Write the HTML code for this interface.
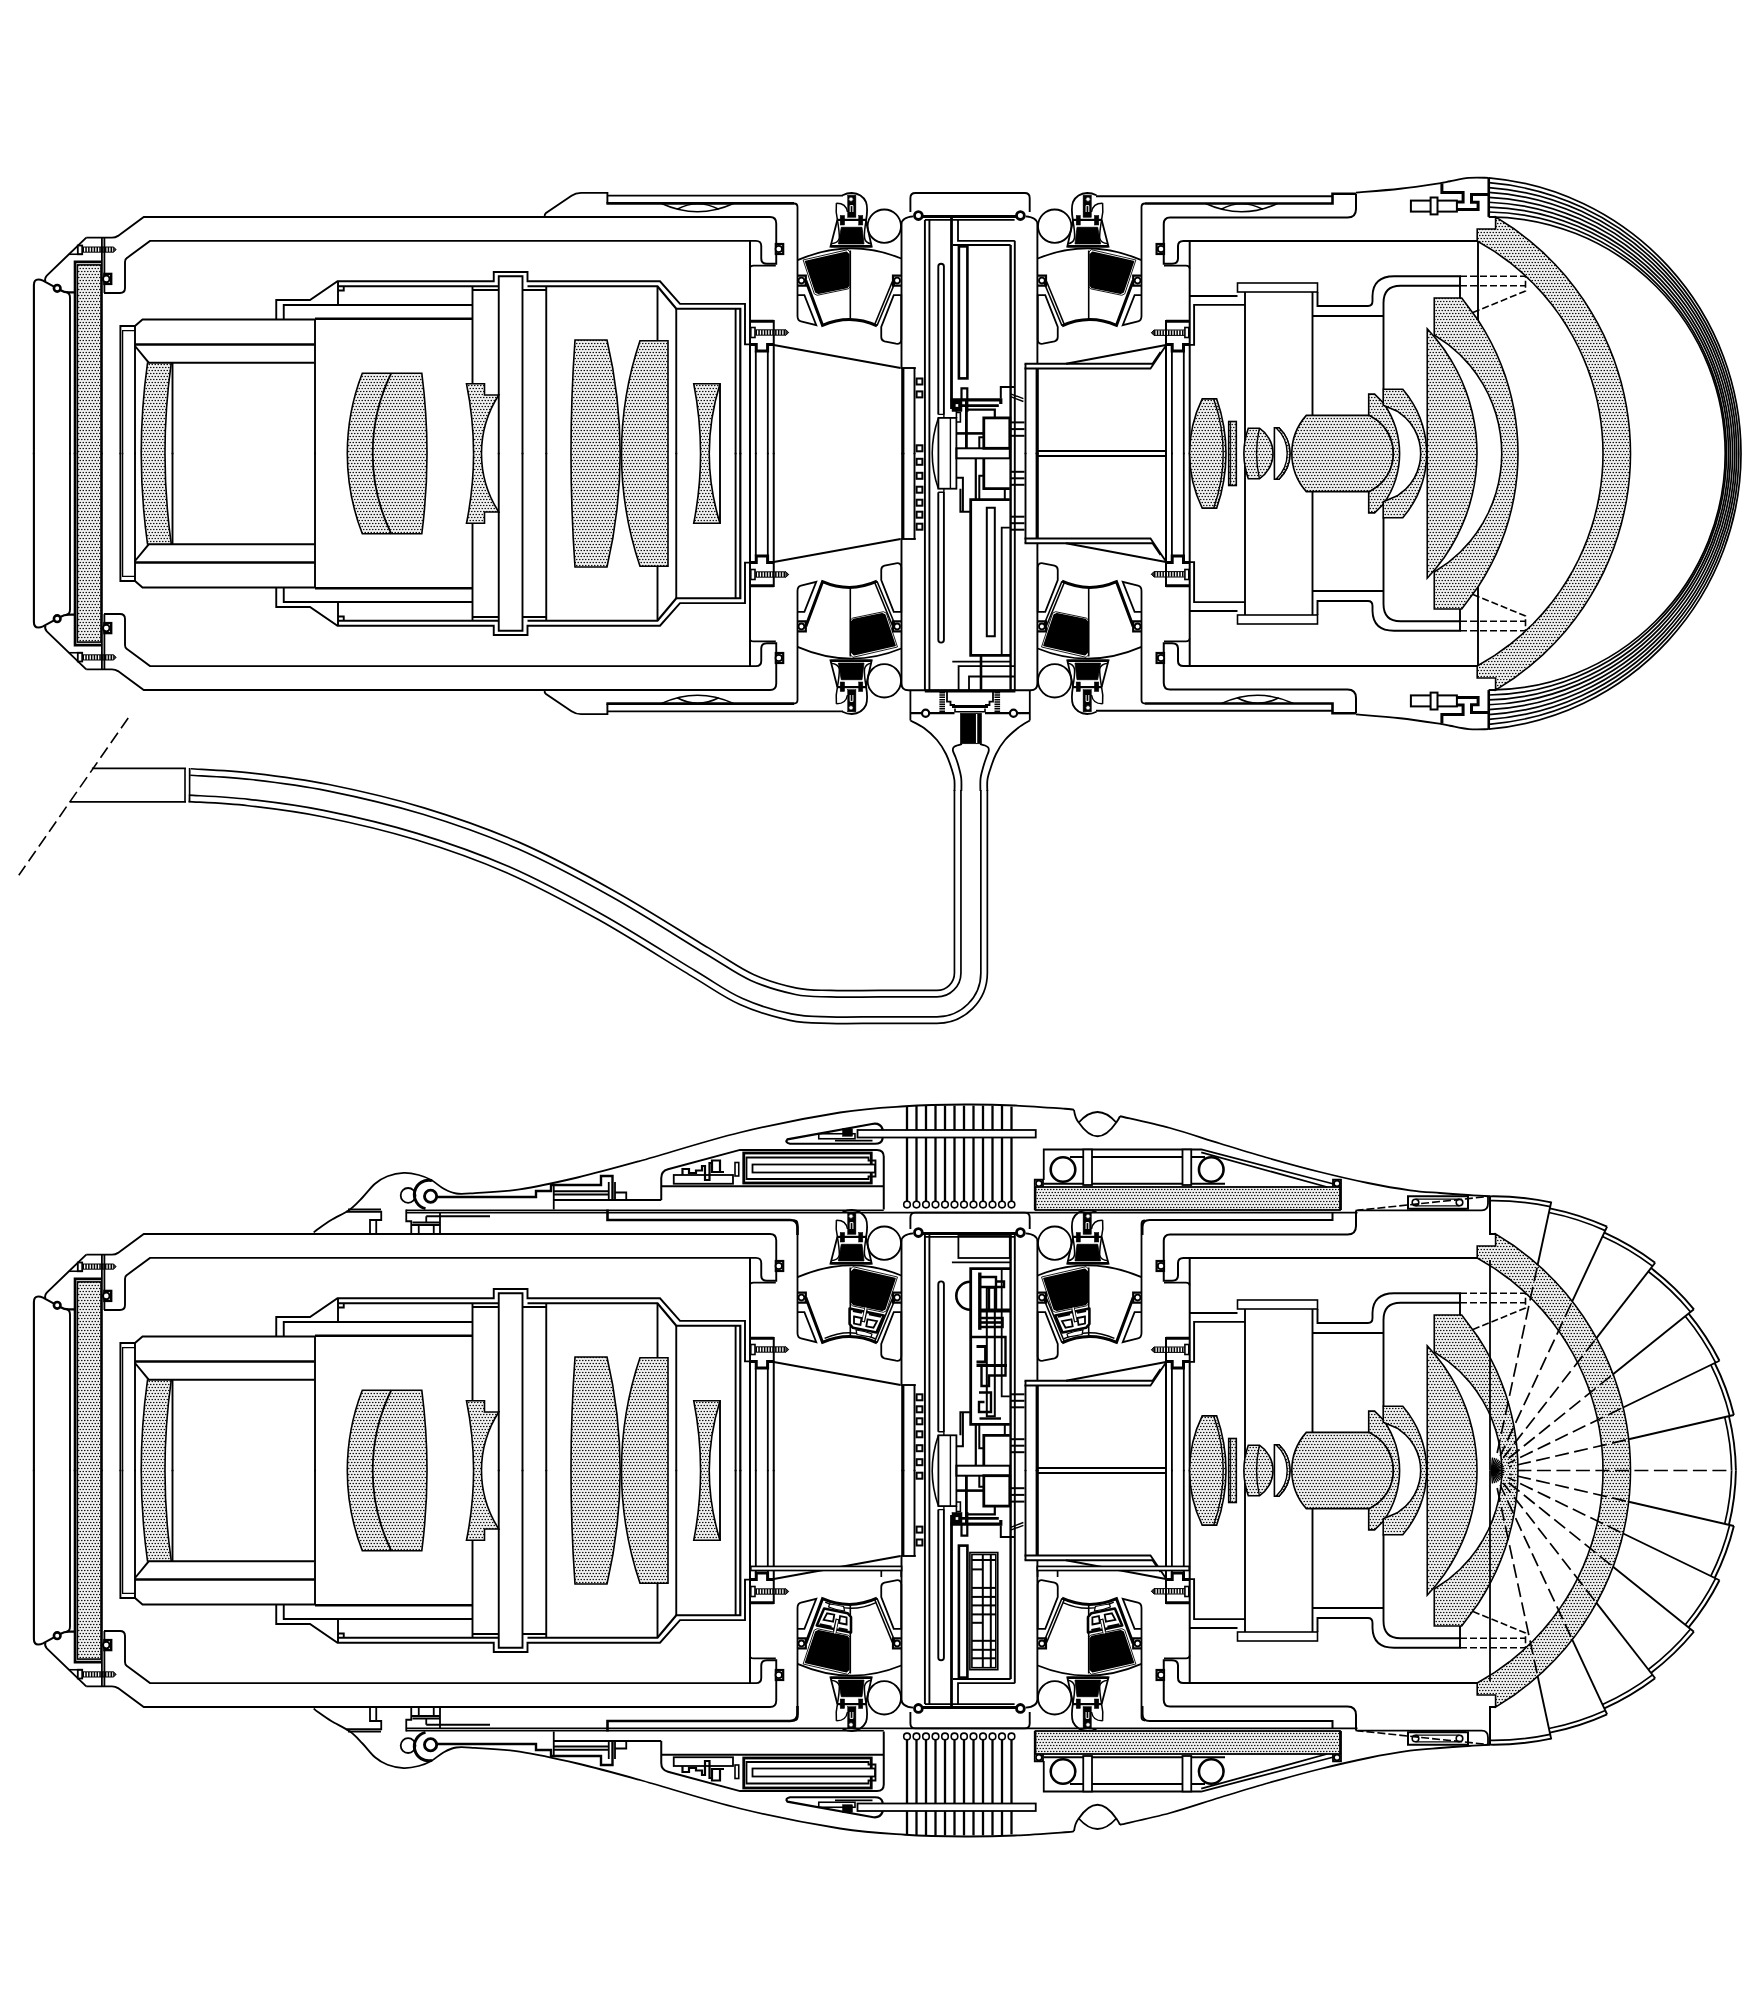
<!DOCTYPE html>
<html><head><meta charset="utf-8"><title>Section drawing</title>
<style>html,body{margin:0;padding:0;background:#fff;font-family:"Liberation Sans",sans-serif}svg{display:block}</style>
</head><body>
<svg width="1757" height="2004" viewBox="0 0 1757 2004" stroke-linejoin="miter" stroke-linecap="butt">
<defs>
<pattern id="dots" width="3" height="6" patternUnits="userSpaceOnUse">
<rect width="3" height="6" fill="#f1f1f1"/>
<circle cx="0.75" cy="1.5" r="0.8" fill="#000"/><circle cx="2.25" cy="4.5" r="0.8" fill="#000"/>
</pattern>
<g id="symU"><path d="M86.25,237.6 L46.8,275.6 Q44.2,278.5 45.5,281.3" fill="none" stroke="#000" stroke-width="1.9" />
<path d="M33.9,454.2 V285 Q33.9,279.5 38.3,279.5 Q40.5,279.5 43,280.6 L54,286.6" fill="none" stroke="#000" stroke-width="2.1" />
<path d="M60.2,290 Q64,292.4 68.75,292.4 H75" fill="none" stroke="#000" stroke-width="2.1" />
<path d="M66.5,292.2 Q70,293 70,297.5 V454.2" fill="none" stroke="#000" stroke-width="1.9" />
<circle cx="57.2" cy="288.3" r="3.3" fill="#fff" stroke="#000" stroke-width="2.6"/>
<path d="M75,454.2 V261.9 H101.9" fill="none" stroke="#000" stroke-width="2.6" />
<path d="M101.9,237.6 L101.9,454.2" stroke="#000" stroke-width="1.8" fill="none" />
<path d="M104.4,237.6 L104.4,293" stroke="#000" stroke-width="1.8" fill="none" />
<path d="M82.5,249.6 L113.5,249.6" stroke="#000" stroke-width="5" fill="none" stroke-dasharray="1.5 1.3"/>
<path d="M82.5,247 H113.5 L116,249.6 L113.5,252.2 H82.5" fill="none" stroke="#000" stroke-width="1" />
<path d="M113.2,247 L116,249.6 L113.2,252.2 Z" fill="#333" stroke="#000" stroke-width="0.6" />
<rect x="77.8" y="245.5" width="4.4" height="8.75" rx="0" fill="#fff" stroke="#000" stroke-width="1.8"/>
<path d="M68.9,254.25 H82" fill="none" stroke="#000" stroke-width="1.6" />
<path d="M86.25,237.6 H112 Q115.5,237.6 118,235.9 L143.75,217 H770 Q776.25,217 776.25,223.5 V263.75 H767 Q761.25,263.75 761.25,258.5 V246 Q761.25,240.9 756,240.9 H150 L127,257.9 Q125,259 125,262 V288 Q125,293 120,293 H104" fill="none" stroke="#000" stroke-width="1.9" />
<path d="M775.8,265.6 H753.5 Q750,265.6 750,268.5" fill="none" stroke="#000" stroke-width="1.6" />
<rect x="104.4" y="273.9" width="6.8" height="10" rx="0" fill="none" stroke="#000" stroke-width="2.4"/>
<circle cx="106.3" cy="278.9" r="3.3" fill="#fff" stroke="#000" stroke-width="2"/>
<rect x="775.8" y="244" width="7.4" height="10" rx="0" fill="none" stroke="#000" stroke-width="2.2"/>
<circle cx="778.8" cy="249" r="3.2" fill="#fff" stroke="#000" stroke-width="1.8"/>
<path d="M120.4,454.2 V326 H135 L142.5,319.5 H315" fill="none" stroke="#000" stroke-width="1.9" />
<path d="M122.6,454.2 V330.6 H135" fill="none" stroke="#000" stroke-width="1.3" />
<path d="M135,326 L135,454.2" stroke="#000" stroke-width="1.9" fill="none" />
<path d="M135,344.5 L314.5,344.5" stroke="#000" stroke-width="2.4" fill="none" />
<path d="M135,346 L148.75,362.7 H314.5" fill="none" stroke="#000" stroke-width="1.9" />
<path d="M172.5,363 L172.5,454.2" stroke="#000" stroke-width="1.9" fill="none" />
<path d="M315,319.5 L315,454.2" stroke="#000" stroke-width="1.9" fill="none" />
<path d="M276.25,319.5 V300 H310 L337.5,281.25 H493.75 V272 H527.5 V281.25 H660 L680,303.9 H745 V344.4 H750" fill="none" stroke="#000" stroke-width="1.9" />
<path d="M283.75,319.5 V305 H472.5" fill="none" stroke="#000" stroke-width="1.9" />
<path d="M338,281.25 V305 M338,286.25 H343.75 V290.5 H338 M343.75,286.25 H498.75" fill="none" stroke="#000" stroke-width="1.9" />
<path d="M498.75,454.2 V276.25 H522.5 V454.2" fill="none" stroke="#000" stroke-width="1.9" />
<path d="M527.5,286.25 H657.5 L676.25,308.75 H740.3 V454.2" fill="none" stroke="#000" stroke-width="2.2" />
<path d="M472.5,290 H498.75 M522.5,290 H546.25" fill="none" stroke="#000" stroke-width="1.9" />
<path d="M472.5,286.25 L472.5,383.75" stroke="#000" stroke-width="1.9" fill="none" />
<path d="M315,318.7 L472.5,318.7" stroke="#000" stroke-width="2.4" fill="none" />
<path d="M546.25,286.25 L546.25,454.2" stroke="#000" stroke-width="1.9" fill="none" />
<path d="M657.5,286.25 L657.5,340" stroke="#000" stroke-width="1.9" fill="none" />
<path d="M676.25,308.75 L676.25,454.2" stroke="#000" stroke-width="1.9" fill="none" />
<path d="M735.6,308.75 L735.6,454.2" stroke="#000" stroke-width="1.9" fill="none" />
<path d="M750,240.5 L750,454.2" stroke="#000" stroke-width="2" fill="none" />
<path d="M750,321.25 H773.75" fill="none" stroke="#000" stroke-width="3" />
<path d="M773.75,320 L773.75,454.2" stroke="#000" stroke-width="2" fill="none" />
<path d="M750,344.4 H756.25 V351 H767.6 V344.4 H773.75" fill="none" stroke="#000" stroke-width="3" />
<path d="M755.8,351 V454.2 M767.8,351 V454.2" fill="none" stroke="#000" stroke-width="1.8" />
<path d="M755.5,332.5 L786,332.5" stroke="#000" stroke-width="5" fill="none" stroke-dasharray="1.5 1.3"/>
<path d="M755.5,329.8 H786 L788.6,332.5 L786,335.2 H755.5" fill="none" stroke="#000" stroke-width="1" />
<path d="M785.7,329.8 L788.6,332.5 L785.7,335.2 Z" fill="#333" stroke="#000" stroke-width="0.6" />
<rect x="750.8" y="327.5" width="4.2" height="10" rx="0" fill="#fff" stroke="#000" stroke-width="1.6"/>
<path d="M773.75,345 L900.6,368" stroke="#000" stroke-width="1.9" fill="none" />
<path d="M900.6,368 L915.8,368" stroke="#000" stroke-width="1.9" fill="none" />
<path d="M902.8,368 L902.8,454.2" stroke="#000" stroke-width="3.2" fill="none" />
<path d="M914.5,368 L914.5,454.2" stroke="#000" stroke-width="1.9" fill="none" />
<path d="M1024.5,363.75 H1152.5 M1024.5,368.5 H1150.5 L1166,345.5 M1152.5,363.75 L1160.5,352" fill="none" stroke="#000" stroke-width="1.8" />
<path d="M1066,363.75 L1166,345" stroke="#000" stroke-width="1.9" fill="none" />
<path d="M1025.5,364 L1025.5,454.2" stroke="#000" stroke-width="1.9" fill="none" />
<path d="M1037.2,368 L1037.2,454.2" stroke="#000" stroke-width="3.2" fill="none" />
<path d="M1038,451 L1166,451" stroke="#000" stroke-width="1.9" fill="none" />
<path d="M1189.7,321.25 H1166" fill="none" stroke="#000" stroke-width="3" />
<path d="M1166,320 L1166,454.2" stroke="#000" stroke-width="2" fill="none" />
<path d="M1189.7,344.4 H1183.5 V351 H1172.2 V344.4 H1166" fill="none" stroke="#000" stroke-width="3" />
<path d="M1183.8,351 V454.2 M1171.9,351 V454.2" fill="none" stroke="#000" stroke-width="1.8" />
<path d="M1154,332.7 L1184.5,332.7" stroke="#000" stroke-width="5" fill="none" stroke-dasharray="1.5 1.3"/>
<path d="M1184.5,330 H1154 L1151.4,332.7 L1154,335.4 H1184.5" fill="none" stroke="#000" stroke-width="1" />
<path d="M1154.3,330 L1151.4,332.7 L1154.3,335.4 Z" fill="#333" stroke="#000" stroke-width="0.6" />
<rect x="1184.9" y="327.5" width="3.9" height="10" rx="0" fill="#fff" stroke="#000" stroke-width="1.6"/>
<path d="M1189.7,240.5 L1189.7,454.2" stroke="#000" stroke-width="2" fill="none" />
<path d="M1356,193.75 V209 Q1356,217.5 1347.5,217.5 H1170 Q1163.75,217.5 1163.75,224 V263.75 H1172 Q1178,263.75 1178,258.5 V246 Q1178,240.9 1183.5,240.9 H1478" fill="none" stroke="#000" stroke-width="2" />
<path d="M1164,265.6 H1186 Q1189.5,265.6 1189.6,268.5" fill="none" stroke="#000" stroke-width="1.6" />
<rect x="1156.6" y="244" width="7.4" height="10" rx="0" fill="none" stroke="#000" stroke-width="2.2"/>
<circle cx="1161" cy="249" r="3.2" fill="#fff" stroke="#000" stroke-width="1.8"/>
<path d="M1190,296 L1237.5,296" stroke="#000" stroke-width="1.9" fill="none" />
<rect x="1237.5" y="283" width="80" height="9" rx="0" fill="none" stroke="#000" stroke-width="1.6"/>
<path d="M1245,292 L1245,454.2" stroke="#000" stroke-width="1.9" fill="none" />
<path d="M1312.5,292 L1312.5,415.5" stroke="#000" stroke-width="1.9" fill="none" />
<path d="M1245,304.9 H1194.1 V344.9 H1189.7" fill="none" stroke="#000" stroke-width="1.9" />
<path d="M1317.5,292 V306 H1368 Q1372.5,306 1372.5,301 V296 Q1373,276.25 1394,276.25 H1460 V298" fill="none" stroke="#000" stroke-width="1.9" />
<path d="M1312.5,316 H1383.5" fill="none" stroke="#000" stroke-width="1.9" />
<path d="M1383.5,389.5 V303 Q1383.5,285.75 1400.5,285.75 H1460" fill="none" stroke="#000" stroke-width="1.9" />
<path d="M1460,276.25 H1525.5 V291 L1473,312.5 M1460,285.75 H1525.5" fill="none" stroke="#000" stroke-width="1.6" stroke-dasharray="7 3"/></g>
<g id="sym"><use href="#symU"/><use href="#symU" transform="translate(0,907) scale(1,-1)"/></g>
<g id="lenses"><rect x="77.4" y="264.9" width="23.6" height="377.2" rx="0" fill="url(#dots)" stroke="#000" stroke-width="1.6"/>
<path d="M147.5,363 H171.25 A658.35,658.35 0 0 0 171.25,544 H147.5 A658.35,658.35 0 0 1 147.5,363Z" fill="url(#dots)" stroke="#000" stroke-width="1.6" />
<path d="M362.3,373.2 H421.8 A622.61,622.61 0 0 1 421.8,533.8 H362.3 A222.44,222.44 0 0 1 362.3,373.2Z" fill="url(#dots)" stroke="#000" stroke-width="1.6" />
<path d="M391.3,373.2 A182.64,182.64 0 0 0 391.3,533.8" fill="none" stroke="#000" stroke-width="1.8" />
<path d="M466.5,383.75 H484.5 V395 H498.75 A107.82,107.82 0 0 0 498.75,512 H484.5 V523.25 H466.5 A351,351 0 0 0 466.5,383.75Z" fill="url(#dots)" stroke="#000" stroke-width="1.6" />
<path d="M575,340 H607 A501.97,501.97 0 0 1 607,567 H575 A1612.28,1612.28 0 0 1 575,340Z" fill="url(#dots)" stroke="#000" stroke-width="1.6" />
<path d="M640,340.75 H668 L668,566.25 H640 A352.83,352.83 0 0 1 640,340.75Z" fill="url(#dots)" stroke="#000" stroke-width="1.6" />
<path d="M693.75,383.75 H720 A236.92,236.92 0 0 0 720,523.25 H693.75 A363.75,363.75 0 0 0 693.75,383.75Z" fill="url(#dots)" stroke="#000" stroke-width="1.6" />
<path d="M720,383.75 L720,523.25" stroke="#000" stroke-width="1.9" fill="none" />
<path d="M1202.2,398.9 H1216.7 A164.93,164.93 0 0 1 1216.7,508.1 H1202.2 A124.6,124.6 0 0 1 1202.2,398.9Z" fill="url(#dots)" stroke="#000" stroke-width="1.6" />
<path d="M1213.7,398.9 A161.65,161.65 0 0 1 1213.7,508.1" fill="none" stroke="#000" stroke-width="1.4" />
<rect x="1228.7" y="421.5" width="7.6" height="64" rx="0" fill="url(#dots)" stroke="#000" stroke-width="1.6"/>
<path d="M1230.6,421.5 L1230.6,485.5" stroke="#000" stroke-width="1" fill="none" />
<path d="M1248.3,428.2 H1259.4 A30.33,30.33 0 0 1 1259.4,478.8 H1248.3 A76.58,76.58 0 0 1 1248.3,428.2Z" fill="url(#dots)" stroke="#000" stroke-width="1.6" />
<path d="M1259.4,428.2 A115.7,115.7 0 0 0 1259.4,478.8" fill="none" stroke="#000" stroke-width="1.4" />
<path d="M1274.4,427.8 H1279 A35.52,35.52 0 0 1 1279,479.2 H1274.4 Z" fill="#fff" stroke="#000" stroke-width="1.6" />
<path d="M1276,427.8 H1279 A35.52,35.52 0 0 1 1279,479.2 H1276 A35.09,35.09 0 0 0 1276,427.8Z" fill="url(#dots)" stroke="#000" stroke-width="1.4" />
<path d="M1306.3,415.4 H1369.5 A42.32,42.32 0 0 1 1369.5,491.6 H1306.3 A57.31,57.31 0 0 1 1306.3,415.4Z" fill="url(#dots)" stroke="#000" stroke-width="1.6" />
<path d="M1368.7,394.1 L1374.6,394.1 L1383.2,402.7 L1387.37,409.05 L1390.8,415.4 L1393.59,421.75 L1395.8,428.1 L1397.49,434.45 L1398.67,440.8 L1399.37,447.15 L1399.6,453.5 L1399.37,459.85 L1398.67,466.2 L1397.49,472.55 L1395.8,478.9 L1393.59,485.25 L1390.8,491.6 L1387.37,497.95 L1383.2,504.3 L1374.6,512.9 L1368.7,512.9 L1368.7,491.6 L1369.5,491.6 L1378,486.16 L1383.49,480.71 L1387.37,475.27 L1390.12,469.83 L1391.98,464.39 L1393.05,458.94 L1393.4,453.5 L1393.05,448.06 L1391.98,442.61 L1390.12,437.17 L1387.37,431.73 L1383.49,426.29 L1378,420.84 L1369.5,415.4 L1368.7,415.4Z" fill="url(#dots)" stroke="#000" stroke-width="1.6" />
<path d="M1383.2,389.3 L1402.8,389.3 L1402.8,389.3 L1408.41,396.43 L1413.05,403.57 L1416.88,410.7 L1419.99,417.83 L1422.46,424.97 L1424.34,432.1 L1425.66,439.23 L1426.44,446.37 L1426.7,453.5 L1426.44,460.63 L1425.66,467.77 L1424.34,474.9 L1422.46,482.03 L1419.99,489.17 L1416.88,496.3 L1413.05,503.43 L1408.41,510.57 L1402.8,517.7 L1383.2,517.7 L1383.2,501.8 L1383.2,501.8 L1397.29,495.76 L1405.1,489.73 L1410.52,483.69 L1414.46,477.65 L1417.29,471.61 L1419.22,465.57 L1420.33,459.54 L1420.7,453.5 L1420.33,447.46 L1419.22,441.43 L1417.29,435.39 L1414.46,429.35 L1410.52,423.31 L1405.1,417.27 L1397.29,411.24 L1383.2,405.2Z" fill="url(#dots)" stroke="#000" stroke-width="1.6" />
<path d="M1427.25,328.75 L1436.38,339.15 L1444.23,349.54 L1450.99,359.94 L1456.8,370.33 L1461.75,380.73 L1465.93,391.12 L1469.39,401.52 L1472.17,411.92 L1474.3,422.31 L1475.8,432.71 L1476.7,443.1 L1477,453.5 L1476.7,463.9 L1475.8,474.29 L1474.3,484.69 L1472.17,495.08 L1469.39,505.48 L1465.93,515.88 L1461.75,526.27 L1456.8,536.67 L1450.99,547.06 L1444.23,557.46 L1436.38,567.85 L1427.25,578.25Z" fill="url(#dots)" stroke="#000" stroke-width="1.6" />
<path d="M1434.25,298 L1461.75,298 L1478,320 L1484.9,331.12 L1491.01,342.25 L1496.39,353.38 L1501.1,364.5 L1505.17,375.62 L1508.64,386.75 L1511.54,397.88 L1513.89,409 L1515.7,420.12 L1516.98,431.25 L1517.74,442.38 L1518,453.5 L1517.74,464.62 L1516.98,475.75 L1515.7,486.88 L1513.89,498 L1511.54,509.12 L1508.64,520.25 L1505.17,531.38 L1501.1,542.5 L1496.39,553.62 L1491.01,564.75 L1484.9,575.88 L1478,587 L1461.75,609 L1434.25,609 L1434.25,572 L1448.72,562.12 L1460.05,552.25 L1469.25,542.38 L1476.85,532.5 L1483.15,522.62 L1488.36,512.75 L1492.6,502.88 L1495.97,493 L1498.53,483.12 L1500.33,473.25 L1501.4,463.38 L1501.75,453.5 L1501.4,443.62 L1500.33,433.75 L1498.53,423.88 L1495.97,414 L1492.6,404.12 L1488.36,394.25 L1483.15,384.38 L1476.85,374.5 L1469.25,364.62 L1460.05,354.75 L1448.72,344.88 L1434.25,335Z" fill="url(#dots)" stroke="#000" stroke-width="1.6" />
<path d="M1477.2,241 L1477.2,229 L1495.6,229 L1495.6,216.9 L1495.6,216.9 L1513.89,228.73 L1529.48,240.56 L1543.03,252.39 L1554.97,264.22 L1565.57,276.05 L1575.02,287.88 L1583.46,299.71 L1591.01,311.54 L1597.75,323.37 L1603.75,335.2 L1609.05,347.03 L1613.7,358.86 L1617.73,370.69 L1621.18,382.52 L1624.06,394.35 L1626.4,406.18 L1628.2,418.01 L1629.48,429.84 L1630.25,441.67 L1630.5,453.5 L1630.25,465.33 L1629.48,477.16 L1628.2,488.99 L1626.4,500.82 L1624.06,512.65 L1621.18,524.48 L1617.73,536.31 L1613.7,548.14 L1609.05,559.97 L1603.75,571.8 L1597.75,583.63 L1591.01,595.46 L1583.46,607.29 L1575.02,619.12 L1565.57,630.95 L1554.97,642.78 L1543.03,654.61 L1529.48,666.44 L1513.89,678.27 L1495.6,690.1 L1495.6,678 L1477.2,678 L1477.2,666 L1494.76,655.38 L1509.52,644.75 L1522.24,634.12 L1533.38,623.5 L1543.23,612.88 L1551.99,602.25 L1559.79,591.62 L1566.75,581 L1572.96,570.38 L1578.47,559.75 L1583.34,549.12 L1587.61,538.5 L1591.31,527.88 L1594.47,517.25 L1597.11,506.62 L1599.24,496 L1600.89,485.38 L1602.07,474.75 L1602.77,464.12 L1603,453.5 L1602.77,442.88 L1602.07,432.25 L1600.89,421.62 L1599.24,411 L1597.11,400.38 L1594.47,389.75 L1591.31,379.12 L1587.61,368.5 L1583.34,357.88 L1578.47,347.25 L1572.96,336.62 L1566.75,326 L1559.79,315.38 L1551.99,304.75 L1543.23,294.12 L1533.38,283.5 L1522.24,272.88 L1509.52,262.25 L1494.76,251.62 L1477.2,241Z" fill="url(#dots)" stroke="#000" stroke-width="1.6" /></g>
<g id="coilU"><path d="M794,203.5 Q797.5,203.5 797.5,207 V316 Q797.5,320.5 801,321.3 L816.25,325.1 L804.4,295.1 H797.5" fill="none" stroke="#000" stroke-width="1.8" />
<path d="M901.25,295.1 H893.75 L881.25,327 V337 Q881.25,340.5 884.5,341.3 L896,343.7 Q901.25,344.5 901.25,339.5 Z" fill="none" stroke="#000" stroke-width="1.8" />
<path d="M797.5,260.2 Q850,237.5 901.25,258.5" fill="none" stroke="#000" stroke-width="1.8" />
<path d="M805.8,280.5 L822.5,325.3 Q850,313.5 877,325.8" fill="none" stroke="#000" stroke-width="3" />
<path d="M895.4,281.5 L877,325.8" fill="none" stroke="#000" stroke-width="1.6" />
<path d="M892.4,281.5 L874.6,324.8" fill="none" stroke="#000" stroke-width="1.6" />
<path d="M797.5,275.6 H805.8 V285.6 H797.5" fill="none" stroke="#000" stroke-width="2.2" />
<circle cx="801.4" cy="280.6" r="2.9" fill="#fff" stroke="#000" stroke-width="1.8"/>
<path d="M901.25,275.6 H893 V285.6 H901.25" fill="none" stroke="#000" stroke-width="2.2" />
<circle cx="897.1" cy="280.6" r="2.9" fill="#fff" stroke="#000" stroke-width="1.8"/>
<path d="M850.3,250.5 L850.3,319.8" stroke="#000" stroke-width="1.6" fill="none" />
<path d="M842.5,195.3 Q847,193 851.8,193 Q862,193.5 866,202 Q868.2,208 866,220.9 L871.7,246.5 H830.5 L837.4,219.8" fill="none" stroke="#000" stroke-width="1.8" />
<path d="M836.4,203.2 Q835.5,212 837.4,219.8 Q839.5,232 839.3,238 Q838.5,243 831,243.8" fill="none" stroke="#000" stroke-width="1.5" />
<path d="M836.4,203.2 Q846,203 847.5,212" fill="none" stroke="#000" stroke-width="1.5" />
<path d="M866,220.9 Q864,232 864.5,238 Q865.5,243 871.2,243.8" fill="none" stroke="#000" stroke-width="1.5" />
<path d="M830.5,246.3 L871.7,246.3" stroke="#000" stroke-width="2.6" fill="none" />
<path d="M837.4,219.9 L866,219.9" stroke="#000" stroke-width="2.2" fill="none" />
<rect x="847.7" y="195.2" width="8.2" height="22.1" rx="0" fill="#000" stroke="#000" stroke-width="0.5"/>
<circle cx="851" cy="199.2" r="2.2" fill="#fff" stroke="#000" stroke-width="0.8"/>
<path d="M850.2,212 V205.6 H852.9 V212" fill="none" stroke="#fff" stroke-width="1" />
<rect x="840.2" y="215.5" width="4.4" height="9.5" rx="0" fill="#000" stroke="#000" stroke-width="0.5"/>
<rect x="858.7" y="215.5" width="4.1" height="9.5" rx="0" fill="#000" stroke="#000" stroke-width="0.5"/>
<path d="M841.3,227.3 L862,227.3 L864,243.9 L838.4,243.9Z" fill="#000" stroke="#000" stroke-width="0.8" />
<circle cx="884.3" cy="226.2" r="16.7" fill="none" stroke="#000" stroke-width="1.8"/></g>
<g id="coilOut"><path d="M805.6,261.5 L846.5,252.2 L848.8,254.5 L848.8,285.5 L847,287.5 L818.5,293.3 L815.8,292Z" fill="#000" stroke="#000" stroke-width="1.6" stroke-linejoin="round"/>
<path d="M803.13,259.99 L847.72,249.67 L850.22,252.22 L850.22,286.63 L848.26,288.85 L817.2,295.29 L814.25,293.85Z" fill="none" stroke="#000" stroke-width="0.9" stroke-linejoin="round"/></g>
<g id="coilIn"><path d="M895,261.5 L854.1,252.2 L851.8,254.5 L851.8,285.5 L853.6,287.5 L882.1,293.3 L884.8,292Z" fill="#000" stroke="#000" stroke-width="1.6" stroke-linejoin="round"/>
<path d="M897.47,259.99 L852.88,249.67 L850.38,252.22 L850.38,286.63 L852.34,288.85 L883.4,295.29 L886.35,293.85Z" fill="none" stroke="#000" stroke-width="0.9" stroke-linejoin="round"/></g>
<g id="coilBr"><path d="M849.6,291.5 L883.8,298.6 L876.5,315.5 L853,310.8 L849.6,307Z" fill="#fff" stroke="#000" stroke-width="2.6" stroke-linejoin="round"/>
<path d="M854,299.5 L861.5,301 L860.5,308 L854,306.6Z" fill="none" stroke="#000" stroke-width="1.8" />
<path d="M867.5,302.3 L877,304.2 L873.5,310.7 L866.3,309.3Z" fill="none" stroke="#000" stroke-width="1.8" />
<path d="M853,293.8 L862,295.7" fill="none" stroke="#000" stroke-width="2.2" />
<path d="M869,297.2 L881,299.7" fill="none" stroke="#000" stroke-width="2.2" />
<path d="M866,290 L863.2,305" fill="none" stroke="#000" stroke-width="2.4" stroke="#fff"/>
<path d="M866,292 L863.2,305" fill="none" stroke="#000" stroke-width="3.6" />
<path d="M866,290.5 L863.2,304" fill="none" stroke="#fff" stroke-width="1.6" />
<path d="M824.6,321.4 Q850,309.8 875.4,321.9" fill="none" stroke="#000" stroke-width="1.5" />
<path d="M856,313 Q865,314 872,317 L871,320 Q864,319 857,317.5 Z" fill="#fff" stroke="#000" stroke-width="1.2" /></g>
<g id="coilBrO"><use href="#coilBr" transform="translate(1700.6,0) scale(-1,1)"/></g>
<g id="cenU"><path d="M901.5,367 V224.5 Q901.5,217.2 913.3,216.4" fill="none" stroke="#000" stroke-width="1.9" />
<path d="M1037.4,363.8 V224.5 Q1037.4,217.2 1025.6,216.4" fill="none" stroke="#000" stroke-width="1.9" />
<path d="M910.4,212 V198 Q910.4,193 915.4,193 H1024.7 Q1029.7,193 1029.7,198 V212" fill="none" stroke="#000" stroke-width="1.9" />
<path d="M922.5,216.4 L1016.5,216.4" stroke="#000" stroke-width="3" fill="none" />
<path d="M924.9,219.9 L1014.6,219.9" stroke="#000" stroke-width="1.6" fill="none" />
<circle cx="918.4" cy="215.6" r="3.9" fill="#fff" stroke="#000" stroke-width="2.8"/>
<circle cx="1020.4" cy="215.6" r="3.9" fill="#fff" stroke="#000" stroke-width="2.8"/></g>
<g id="cenUb"><path d="M901.5,367 V224.5 Q901.5,217.2 913.3,216.4" fill="none" stroke="#000" stroke-width="1.9" />
<path d="M1037.4,363.8 V224.5 Q1037.4,217.2 1025.6,216.4" fill="none" stroke="#000" stroke-width="1.9" />
<path d="M910.4,212 V200.6 Q910.4,195.6 915.4,195.6 H1024.7 Q1029.7,195.6 1029.7,200.6 V212" fill="none" stroke="#000" stroke-width="1.9" />
<path d="M922.5,216.4 L1016.5,216.4" stroke="#000" stroke-width="3" fill="none" />
<path d="M924.9,219.9 L1014.6,219.9" stroke="#000" stroke-width="1.6" fill="none" />
<circle cx="918.4" cy="215.6" r="3.9" fill="#fff" stroke="#000" stroke-width="2.8"/>
<circle cx="1020.4" cy="215.6" r="3.9" fill="#fff" stroke="#000" stroke-width="2.8"/></g>
<g id="elec"><path d="M924.9,219.9 L924.9,690" stroke="#000" stroke-width="1.9" fill="none" />
<path d="M929.4,219.9 L929.4,690" stroke="#000" stroke-width="1.9" fill="none" />
<path d="M1010.6,245 L1010.6,690" stroke="#000" stroke-width="2.4" fill="none" />
<path d="M1014.8,240.8 L1014.8,690" stroke="#000" stroke-width="1.9" fill="none" />
<rect x="916.6" y="378.5" width="5.8" height="6" rx="0" fill="none" stroke="#000" stroke-width="2"/>
<rect x="916.6" y="391.4" width="5.8" height="6" rx="0" fill="none" stroke="#000" stroke-width="2"/>
<rect x="916.6" y="445.3" width="5.8" height="6" rx="0" fill="none" stroke="#000" stroke-width="2"/>
<rect x="916.6" y="458.8" width="5.8" height="6" rx="0" fill="none" stroke="#000" stroke-width="2"/>
<rect x="916.6" y="472.8" width="5.8" height="6" rx="0" fill="none" stroke="#000" stroke-width="2"/>
<rect x="916.6" y="486.7" width="5.8" height="6" rx="0" fill="none" stroke="#000" stroke-width="2"/>
<rect x="916.6" y="499.7" width="5.8" height="6" rx="0" fill="none" stroke="#000" stroke-width="2"/>
<rect x="916.6" y="511.7" width="5.8" height="6" rx="0" fill="none" stroke="#000" stroke-width="2"/>
<rect x="916.6" y="523.7" width="5.8" height="6" rx="0" fill="none" stroke="#000" stroke-width="2"/>
<path d="M938.3,414.4 V266.6 A2.8,2.8 0 0 1 943.9,266.6 V414.4" fill="none" stroke="#000" stroke-width="1.9" />
<path d="M938.3,492.2 V639.8 A2.8,2.8 0 0 0 943.9,639.8 V492.2" fill="none" stroke="#000" stroke-width="1.9" />
<path d="M938.3,414.4 H943.9 V417.9 M938.3,492.2 H943.9 V488.7" fill="none" stroke="#000" stroke-width="1.4" />
<rect x="938.4" y="417.9" width="18" height="70.8" rx="0" fill="none" stroke="#000" stroke-width="1.8"/>
<path d="M950.4,417.9 L950.4,488.7" stroke="#000" stroke-width="1.4" fill="none" />
<path d="M938.4,417.9 A107.43,107.43 0 0 0 938.4,488.7" fill="none" stroke="#000" stroke-width="1.6" />
<path d="M951.5,217 L951.5,409" stroke="#000" stroke-width="2.8" fill="none" />
<path d="M958,219.9 V240.8 H1014.8" fill="none" stroke="#000" stroke-width="1.8" />
<path d="M953,245 H1010.6" fill="none" stroke="#000" stroke-width="1.8" />
<rect x="958.9" y="246.4" width="8.5" height="132" rx="0" fill="none" stroke="#000" stroke-width="2.6"/>
<path d="M961.5,401 V388.4 H967.3 V412" fill="none" stroke="#000" stroke-width="2.2" />
<path d="M1014.8,387 H1000.8 V398.4" fill="none" stroke="#000" stroke-width="2" />
<path d="M1010.6,393.8 L1023.4,398.7 M1010.6,396.6 L1023.4,401.5" fill="none" stroke="#000" stroke-width="1.4" />
<path d="M950.5,399.9 H1000.8 V404" fill="none" stroke="#000" stroke-width="3.2" />
<path d="M953.5,405.6 H998.8" fill="none" stroke="#000" stroke-width="2.6" />
<path d="M966.5,409.6 H994.8 V417.9" fill="none" stroke="#000" stroke-width="2.2" />
<rect x="952" y="401" width="10" height="10.5" rx="0" fill="#000" stroke="#000" stroke-width="0.5"/>
<rect x="955.5" y="404" width="2.8" height="3" rx="0" fill="#fff" stroke="#000" stroke-width="0.3"/>
<path d="M956.4,417.9 V411 M956.4,412.5 H960.4 V422 H956.4" fill="none" stroke="#000" stroke-width="1.6" />
<path d="M966.4,401 L966.4,448.3" stroke="#000" stroke-width="2.8" fill="none" />
<path d="M956.4,433.4 L983.8,433.4" stroke="#000" stroke-width="2.6" fill="none" />
<path d="M983.8,437.3 H979.3 V448.3" fill="none" stroke="#000" stroke-width="2" />
<rect x="983.8" y="417.9" width="26" height="30.4" rx="0" fill="none" stroke="#000" stroke-width="2.8"/>
<rect x="956.4" y="448.3" width="53.4" height="10" rx="0" fill="none" stroke="#000" stroke-width="2"/>
<path d="M983.8,458.3 V488.7 H1009.8" fill="none" stroke="#000" stroke-width="2.8" />
<path d="M975.8,458.3 L975.8,499.7" stroke="#000" stroke-width="2.2" fill="none" />
<path d="M983.8,475.8 H979.3 V499.7" fill="none" stroke="#000" stroke-width="2" />
<path d="M956.4,477.8 H962.9 V511.7 H969.9 M960.4,488.7 V511.7 H962.9" fill="none" stroke="#000" stroke-width="2" />
<path d="M1004.8,488.7 L1004.8,499.7" stroke="#000" stroke-width="2" fill="none" />
<path d="M1009.8,499.7 H970.7 V655.3 H1010.6" fill="none" stroke="#000" stroke-width="2.8" />
<path d="M986.8,636.3 V507.7 H994.8 V636.3 Z" fill="none" stroke="#000" stroke-width="2" />
<path d="M1009.8,527.7 H1001.7 V655.3" fill="none" stroke="#000" stroke-width="1.8" />
<path d="M1010.6,422.4 L1024.5,422.4" stroke="#000" stroke-width="2" fill="none" />
<path d="M1010.6,429.1 L1024.5,429.1" stroke="#000" stroke-width="2" fill="none" />
<path d="M1010.6,435.8 L1024.5,435.8" stroke="#000" stroke-width="2" fill="none" />
<path d="M1010.6,471.8 L1024.5,471.8" stroke="#000" stroke-width="2" fill="none" />
<path d="M1010.6,478.3 L1024.5,478.3" stroke="#000" stroke-width="2" fill="none" />
<path d="M1010.6,484.8 L1024.5,484.8" stroke="#000" stroke-width="2" fill="none" />
<path d="M1010.6,516.7 L1024.5,516.7" stroke="#000" stroke-width="2" fill="none" />
<path d="M1010.6,523.2 L1024.5,523.2" stroke="#000" stroke-width="2" fill="none" />
<path d="M1010.6,529.7 L1024.5,529.7" stroke="#000" stroke-width="2" fill="none" /></g>
<g id="topU"><path d="M544.6,216.5 Q544.3,214.5 546,213 L571.5,195.8 Q575.5,193 581,192.9 H607.4 V203.4" fill="none" stroke="#000" stroke-width="1.9" />
<path d="M606.4,203.4 H794" fill="none" stroke="#000" stroke-width="2.8" />
<path d="M607.4,195.6 H843" fill="none" stroke="#000" stroke-width="1.9" />
<path d="M661.5,203.5 Q697.5,220 733.5,203.5" fill="none" stroke="#000" stroke-width="1.7" /><path d="M677.2,209.3 Q697.5,198.2 718.7,209.3" fill="none" stroke="#000" stroke-width="1.7" />
<path d="M1096,196.2 H1332.5" fill="none" stroke="#000" stroke-width="1.9" />
<path d="M1145,203.5 H1332.5 V193.75 H1356" fill="none" stroke="#000" stroke-width="2.6" />
<path d="M1356,192.6 C1363.33,191.96 1385.9,190.33 1400,188.75 C1414.1,187.17 1432.27,184.35 1440.6,183.1 C1448.93,181.85 1445.31,182.12 1450,181.25 C1454.69,180.38 1462.29,178.47 1468.75,177.9 C1475.21,177.33 1485.42,177.82 1488.75,177.8" fill="none" stroke="#000" stroke-width="1.8" />
<path d="M1488.75,177.8 L1488.75,216.9" stroke="#000" stroke-width="2.6" fill="none" />
<path d="M1488.75,216.9 H1495.6" fill="none" stroke="#000" stroke-width="1.8" />
<path d="M1478,241 L1478,320" stroke="#000" stroke-width="1.9" fill="none" />
<path d="M1441.9,183.4 V192.5 H1463.1 V201.9 H1456.9 M1488.75,194.4 H1471.5 V202.2 H1478.1 V209.6 H1456.9" fill="none" stroke="#000" stroke-width="3" />
<rect x="1410.9" y="200.6" width="46" height="11" rx="0" fill="none" stroke="#000" stroke-width="2"/>
<rect x="1430.6" y="197.5" width="6.9" height="16.9" rx="0" fill="#fff" stroke="#000" stroke-width="2"/></g>
<g id="botU"><path d="M313.75,1232.5 C314.46,1231.92 315.08,1231.08 318,1229 C320.92,1226.92 325.92,1223.27 331.25,1220 C336.58,1216.73 344.79,1213.15 350,1209.4 C355.21,1205.65 358.33,1201.78 362.5,1197.5 C366.67,1193.22 370.83,1187.29 375,1183.75 C379.17,1180.21 382.71,1178.06 387.5,1176.25 C392.29,1174.44 398.54,1173.11 403.75,1172.9 C408.96,1172.69 414.17,1173.82 418.75,1175 C423.33,1176.18 427.08,1177.71 431.25,1180 C435.42,1182.29 439.58,1186.5 443.75,1188.75 C447.92,1191 451.04,1192.78 456.25,1193.5 C461.46,1194.22 464.44,1193.78 475,1193.1 C485.56,1192.42 502.52,1192 519.6,1189.4 C536.68,1186.8 557.43,1182.23 577.5,1177.5 C597.57,1172.77 612.92,1168.5 640,1161 C667.08,1153.5 706.67,1140.58 740,1132.5 C773.33,1124.42 812.5,1116.88 840,1112.5 C867.5,1108.12 884.17,1107.58 905,1106.25 C925.83,1104.92 946.67,1104.62 965,1104.5 C983.33,1104.38 998.33,1104.79 1015,1105.5 C1031.67,1106.21 1055.17,1108.03 1065,1108.75 C1074.83,1109.47 1072.5,1109.62 1074,1109.8" fill="none" stroke="#000" stroke-width="1.8" />
<path d="M1074,1109.8 Q1075,1118 1078.75,1122.5 M1116.25,1122.5 Q1118.5,1119.5 1120,1116.25" fill="none" stroke="#000" stroke-width="1.8" />
<path d="M1078.75,1122.5 Q1097.5,1101.5 1116.25,1122.5 Q1097.5,1150 1078.75,1122.5 Z" fill="none" stroke="#000" stroke-width="1.8" />
<path d="M1120,1116.25 C1128.33,1118.21 1153.33,1123.46 1170,1128 C1186.67,1132.54 1203.33,1138.42 1220,1143.5 C1236.67,1148.58 1253.33,1153.75 1270,1158.5 C1286.67,1163.25 1303.67,1167.92 1320,1172 C1336.33,1176.08 1353,1179.95 1368,1183 C1383,1186.05 1398,1188.63 1410,1190.3 C1422,1191.97 1430.33,1192.22 1440,1193 C1449.67,1193.78 1459.67,1194.46 1468,1195 C1476.33,1195.54 1486.33,1196.04 1490,1196.25" fill="none" stroke="#000" stroke-width="1.8" />
<circle cx="408.1" cy="1195.4" r="7.4" fill="none" stroke="#000" stroke-width="1.8"/>
<circle cx="430.6" cy="1196.25" r="6.1" fill="none" stroke="#000" stroke-width="2.9"/>
<path d="M432,1180.6 A13.1,13.1 0 1 0 425.5,1208.6" fill="none" stroke="#000" stroke-width="3" />
<path d="M437.5,1197 H536 V1191 H551 V1185 H601 V1176 H612.5 V1200" fill="none" stroke="#000" stroke-width="2.4" />
<path d="M553.75,1191.25 H608.75 M553.75,1194.5 H608.75 M553.75,1200 H661.25 M626.25,1200 V1192.5 H615 M608.75,1182 V1200 M615,1182 V1200 M553.75,1185 V1209.5" fill="none" stroke="#000" stroke-width="1.8" />
<path d="M346.25,1211.75 H381.25 V1220 H370 V1233.75 M376.25,1220 V1233.75 M348,1209.3 H381" fill="none" stroke="#000" stroke-width="1.8" />
<path d="M406.25,1209.5 V1221.25 H411.25 V1233.75 M440,1212 V1233.75 M426.25,1216.25 H440 M426.25,1216.25 V1222.5 M412.5,1222.5 H440 M418.75,1225 V1233.75 M433.75,1225 V1233.75 M412,1225 H440" fill="none" stroke="#000" stroke-width="1.8" />
<path d="M440,1216.25 H490" fill="none" stroke="#000" stroke-width="2" />
<path d="M406.25,1210.2 H883.75" fill="none" stroke="#000" stroke-width="1.6" />
<path d="M406.25,1212.7 H1357.5" fill="none" stroke="#000" stroke-width="1.8" />
<path d="M607.5,1209.5 V1220 H790 Q797.5,1220 797.5,1227 V1235" fill="none" stroke="#000" stroke-width="2.6" />
<path d="M661.25,1200 V1178 Q661.25,1171 668,1169.2 L740,1149.9 H877 Q883.75,1150 883.75,1156.5 V1209.5" fill="none" stroke="#000" stroke-width="2" />
<path d="M661.25,1186.25 L883.75,1186.25" stroke="#000" stroke-width="1.8" fill="none" />
<rect x="673.75" y="1175" width="59.25" height="8.75" rx="0" fill="none" stroke="#000" stroke-width="1.8"/>
<path d="M682.5,1175 V1169 H689 V1173 H696 V1170.5 H702 V1166 H705 V1180 H709.5 V1163 H712 V1160.5 H720 V1172 H724 M712,1163 V1172 H720" fill="none" stroke="#000" stroke-width="2.2" />
<rect x="735" y="1162.5" width="3.75" height="13.5" rx="0" fill="none" stroke="#000" stroke-width="1.6"/>
<rect x="743.75" y="1153" width="127.5" height="30" rx="0" fill="none" stroke="#000" stroke-width="2.8"/>
<path d="M746.5,1157.5 H868.5 V1160.5 H875.5 V1176.5 H868.5 V1179 H746.5 Z" fill="none" stroke="#000" stroke-width="1.8" />
<rect x="752.5" y="1164.5" width="122.5" height="8" rx="0" fill="#fff" stroke="#000" stroke-width="1.8"/>
<path d="M790,1143.75 Q784.5,1142.5 787.5,1139.3 L872,1124 Q880,1122.5 882.5,1129 V1139 Q881.5,1143.75 875,1143.75 Z" fill="none" stroke="#000" stroke-width="2.2" />
<rect x="818.75" y="1133.75" width="36.25" height="5" rx="0" fill="none" stroke="#000" stroke-width="1.6"/>
<rect x="842.5" y="1128.75" width="10" height="7.5" rx="0" fill="#000" stroke="#000" stroke-width="0.5"/>
<path d="M835,1140.6 H872.5" fill="none" stroke="#000" stroke-width="1.8" />
<path d="M907,1106.6 L907,1130" stroke="#000" stroke-width="2.3" fill="none" />
<path d="M907,1137.5 L907,1201.3" stroke="#000" stroke-width="2.3" fill="none" />
<circle cx="907" cy="1204.6" r="3.3" fill="#fff" stroke="#000" stroke-width="1.6"/>
<path d="M916.5,1105.6 L916.5,1130" stroke="#000" stroke-width="2.3" fill="none" />
<path d="M916.5,1137.5 L916.5,1201.3" stroke="#000" stroke-width="2.3" fill="none" />
<circle cx="916.5" cy="1204.6" r="3.3" fill="#fff" stroke="#000" stroke-width="1.6"/>
<path d="M926,1105.6 L926,1130" stroke="#000" stroke-width="2.3" fill="none" />
<path d="M926,1137.5 L926,1201.3" stroke="#000" stroke-width="2.3" fill="none" />
<circle cx="926" cy="1204.6" r="3.3" fill="#fff" stroke="#000" stroke-width="1.6"/>
<path d="M935.5,1105.6 L935.5,1130" stroke="#000" stroke-width="2.3" fill="none" />
<path d="M935.5,1137.5 L935.5,1201.3" stroke="#000" stroke-width="2.3" fill="none" />
<circle cx="935.5" cy="1204.6" r="3.3" fill="#fff" stroke="#000" stroke-width="1.6"/>
<path d="M945,1105.6 L945,1130" stroke="#000" stroke-width="2.3" fill="none" />
<path d="M945,1137.5 L945,1201.3" stroke="#000" stroke-width="2.3" fill="none" />
<circle cx="945" cy="1204.6" r="3.3" fill="#fff" stroke="#000" stroke-width="1.6"/>
<path d="M954.5,1105.6 L954.5,1130" stroke="#000" stroke-width="2.3" fill="none" />
<path d="M954.5,1137.5 L954.5,1201.3" stroke="#000" stroke-width="2.3" fill="none" />
<circle cx="954.5" cy="1204.6" r="3.3" fill="#fff" stroke="#000" stroke-width="1.6"/>
<path d="M964,1105.6 L964,1130" stroke="#000" stroke-width="2.3" fill="none" />
<path d="M964,1137.5 L964,1201.3" stroke="#000" stroke-width="2.3" fill="none" />
<circle cx="964" cy="1204.6" r="3.3" fill="#fff" stroke="#000" stroke-width="1.6"/>
<path d="M973.5,1105.6 L973.5,1130" stroke="#000" stroke-width="2.3" fill="none" />
<path d="M973.5,1137.5 L973.5,1201.3" stroke="#000" stroke-width="2.3" fill="none" />
<circle cx="973.5" cy="1204.6" r="3.3" fill="#fff" stroke="#000" stroke-width="1.6"/>
<path d="M983,1105.6 L983,1130" stroke="#000" stroke-width="2.3" fill="none" />
<path d="M983,1137.5 L983,1201.3" stroke="#000" stroke-width="2.3" fill="none" />
<circle cx="983" cy="1204.6" r="3.3" fill="#fff" stroke="#000" stroke-width="1.6"/>
<path d="M992.5,1105.6 L992.5,1130" stroke="#000" stroke-width="2.3" fill="none" />
<path d="M992.5,1137.5 L992.5,1201.3" stroke="#000" stroke-width="2.3" fill="none" />
<circle cx="992.5" cy="1204.6" r="3.3" fill="#fff" stroke="#000" stroke-width="1.6"/>
<path d="M1002,1105.6 L1002,1130" stroke="#000" stroke-width="2.3" fill="none" />
<path d="M1002,1137.5 L1002,1201.3" stroke="#000" stroke-width="2.3" fill="none" />
<circle cx="1002" cy="1204.6" r="3.3" fill="#fff" stroke="#000" stroke-width="1.6"/>
<path d="M1011.5,1106.6 L1011.5,1130" stroke="#000" stroke-width="2.3" fill="none" />
<path d="M1011.5,1137.5 L1011.5,1201.3" stroke="#000" stroke-width="2.3" fill="none" />
<circle cx="1011.5" cy="1204.6" r="3.3" fill="#fff" stroke="#000" stroke-width="1.6"/>
<rect x="857.5" y="1130" width="178.25" height="7.5" rx="0" fill="#fff" stroke="#000" stroke-width="1.8"/>
<rect x="1035.5" y="1187" width="304.5" height="23" rx="0" fill="url(#dots)" stroke="#000" stroke-width="1.8"/>
<path d="M1043,1187 V1179.75 H1034.75 V1210 M1333,1187 V1179.75 H1341 V1210" fill="none" stroke="#000" stroke-width="1.8" />
<circle cx="1038.9" cy="1183.5" r="2.9" fill="#fff" stroke="#000" stroke-width="1.6"/>
<circle cx="1337" cy="1183.5" r="2.9" fill="#fff" stroke="#000" stroke-width="1.6"/>
<path d="M1043.75,1180 V1149.5 H1201.25 L1333.75,1184" fill="none" stroke="#000" stroke-width="1.8" />
<path d="M1201.25,1152.3 L1327,1187" fill="none" stroke="#000" stroke-width="1.8" />
<path d="M1070,1157 H1205 M1043.75,1183.75 H1225" fill="none" stroke="#000" stroke-width="1.8" />
<rect x="1083.25" y="1149.5" width="8.75" height="35.5" rx="0" fill="#fff" stroke="#000" stroke-width="1.8"/>
<rect x="1182.5" y="1149.5" width="8.75" height="35.5" rx="0" fill="#fff" stroke="#000" stroke-width="1.8"/>
<circle cx="1063" cy="1169.5" r="12.3" fill="#fff" stroke="#000" stroke-width="2.6"/>
<circle cx="1211.25" cy="1169.5" r="12.3" fill="#fff" stroke="#000" stroke-width="2.6"/>
<path d="M1142.5,1235 V1227 Q1142.5,1220 1149.5,1220 H1332.5 V1212.3" fill="none" stroke="#000" stroke-width="2" />
<rect x="1408" y="1196.25" width="60" height="12.5" rx="0" fill="none" stroke="#000" stroke-width="2"/>
<path d="M1410,1210 H1466" fill="none" stroke="#000" stroke-width="1.6" />
<circle cx="1415.5" cy="1202.5" r="3.3" fill="#fff" stroke="#000" stroke-width="1.6"/>
<circle cx="1459.5" cy="1202.5" r="3.3" fill="#fff" stroke="#000" stroke-width="1.6"/>
<path d="M1415.5,1199.2 L1459.5,1199.2" stroke="#000" stroke-width="1.2" fill="none" />
<path d="M1415.5,1205.8 L1459.5,1205.8" stroke="#000" stroke-width="1.2" fill="none" />
<path d="M1355.5,1210.5 L1488,1196.5" stroke="#000" stroke-width="1.6" fill="none" stroke-dasharray="8 3"/>
<path d="M1357.5,1210.3 H1481.75 Q1488,1210.3 1488,1203.5 V1196.25" fill="none" stroke="#000" stroke-width="1.8" />
<path d="M1490,1196.25 V1233.9 H1496" fill="none" stroke="#000" stroke-width="2" />
<path d="M1490,1260 L1490,1470.5" stroke="#000" stroke-width="1.8" fill="none" /></g>
</defs>
<rect width="1757" height="2004" fill="#fff"/>
<g id="topdrawing"><use href="#sym"/>
<use href="#lenses"/>
<use href="#coilU"/>
<use href="#coilOut"/>
<use href="#coilU" transform="translate(0,907) scale(1,-1)"/>
<use href="#coilIn" transform="translate(0,907) scale(1,-1)"/>
<use href="#coilU" transform="translate(1939,0) scale(-1,1)"/>
<use href="#coilOut" transform="translate(1939,0) scale(-1,1)"/>
<use href="#coilU" transform="translate(1939,907) scale(-1,-1)"/>
<use href="#coilIn" transform="translate(1939,907) scale(-1,-1)"/>
<use href="#cenU"/>
<path d="M901.5,540 V683.5 Q901.5,690.3 908.5,690.3 H1030.5 Q1037.4,690.3 1037.4,683.5 V543.2" fill="none" stroke="#000" stroke-width="1.9" />
<path d="M924.8,690.9 L1015.4,690.9" stroke="#000" stroke-width="3" fill="none" />
<path d="M952.3,661.6 H1010.6 M958.6,690 V666.2 H1014.8 M969,690 V676.5 H1014.8" fill="none" stroke="#000" stroke-width="1.8" />
<path d="M981,656 L981,690" stroke="#000" stroke-width="2.6" fill="none" />
<use href="#elec"/>
<use href="#topU"/>
<use href="#topU" transform="translate(0,907) scale(1,-1)"/>
<path d="M1205.5,203.5 Q1241.5,220 1277.5,203.5" fill="none" stroke="#000" stroke-width="1.7" /><path d="M1221.2,209.3 Q1241.5,198.2 1262.7,209.3" fill="none" stroke="#000" stroke-width="1.7" />
<g transform="translate(0,907) scale(1,-1)"><path d="M1221.5,203.5 Q1257.5,220 1293.5,203.5" fill="none" stroke="#000" stroke-width="1.7" /><path d="M1237.2,209.3 Q1257.5,198.2 1278.7,209.3" fill="none" stroke="#000" stroke-width="1.7" /></g>
<path d="M1488.75,177.8 A276.79,276.79 0 0 1 1488.75,729.2" fill="none" stroke="#000" stroke-width="1.7" />
<path d="M1488.75,182.69 A271.67,271.67 0 0 1 1488.75,724.31" fill="none" stroke="#000" stroke-width="1.7" />
<path d="M1488.75,187.58 A266.57,266.57 0 0 1 1488.75,719.42" fill="none" stroke="#000" stroke-width="1.7" />
<path d="M1488.75,192.46 A261.5,261.5 0 0 1 1488.75,714.54" fill="none" stroke="#000" stroke-width="1.7" />
<path d="M1488.75,197.35 A256.46,256.46 0 0 1 1488.75,709.65" fill="none" stroke="#000" stroke-width="1.7" />
<path d="M1488.75,202.24 A251.45,251.45 0 0 1 1488.75,704.76" fill="none" stroke="#000" stroke-width="1.7" />
<path d="M1488.75,207.12 A246.47,246.47 0 0 1 1488.75,699.88" fill="none" stroke="#000" stroke-width="1.7" />
<path d="M1488.75,212.01 A241.52,241.52 0 0 1 1488.75,694.99" fill="none" stroke="#000" stroke-width="1.7" />
<path d="M1488.75,216.9 A236.6,236.6 0 0 1 1488.75,690.1" fill="none" stroke="#000" stroke-width="1.7" />
<path d="M189.6,785.15 C199.67,785.86 227.33,786.82 250,789.4 C272.67,791.98 297.27,794.87 325.6,800.6 C353.93,806.33 388.72,814.28 420,823.8 C451.28,833.32 482.18,844.08 513.3,857.7 C544.42,871.32 575.58,888.12 606.7,905.5 C637.82,922.88 676.67,948 700,962 C723.33,976 731.13,982.47 746.7,989.5 C762.27,996.53 779.52,1001.3 793.4,1004.2 C807.28,1007.1 815.57,1006.45 830,1006.9 C844.43,1007.35 862.18,1006.9 880,1006.9 C897.82,1006.9 927.42,1006.9 936.9,1006.9 A34,34 0 0 0 970.9,972.9 V786" fill="none" stroke="#000" stroke-width="34.6" />
<path d="M189.6,785.15 C199.67,785.86 227.33,786.82 250,789.4 C272.67,791.98 297.27,794.87 325.6,800.6 C353.93,806.33 388.72,814.28 420,823.8 C451.28,833.32 482.18,844.08 513.3,857.7 C544.42,871.32 575.58,888.12 606.7,905.5 C637.82,922.88 676.67,948 700,962 C723.33,976 731.13,982.47 746.7,989.5 C762.27,996.53 779.52,1001.3 793.4,1004.2 C807.28,1007.1 815.57,1006.45 830,1006.9 C844.43,1007.35 862.18,1006.9 880,1006.9 C897.82,1006.9 927.42,1006.9 936.9,1006.9 A34,34 0 0 0 970.9,972.9 V786" fill="none" stroke="#fff" stroke-width="31.2" />
<path d="M189.6,785.15 C199.67,785.86 227.33,786.82 250,789.4 C272.67,791.98 297.27,794.87 325.6,800.6 C353.93,806.33 388.72,814.28 420,823.8 C451.28,833.32 482.18,844.08 513.3,857.7 C544.42,871.32 575.58,888.12 606.7,905.5 C637.82,922.88 676.67,948 700,962 C723.33,976 731.13,982.47 746.7,989.5 C762.27,996.53 779.52,1001.3 793.4,1004.2 C807.28,1007.1 815.57,1006.45 830,1006.9 C844.43,1007.35 862.18,1006.9 880,1006.9 C897.82,1006.9 927.42,1006.9 936.9,1006.9 A34,34 0 0 0 970.9,972.9 V786" fill="none" stroke="#000" stroke-width="21.6" />
<path d="M189.6,785.15 C199.67,785.86 227.33,786.82 250,789.4 C272.67,791.98 297.27,794.87 325.6,800.6 C353.93,806.33 388.72,814.28 420,823.8 C451.28,833.32 482.18,844.08 513.3,857.7 C544.42,871.32 575.58,888.12 606.7,905.5 C637.82,922.88 676.67,948 700,962 C723.33,976 731.13,982.47 746.7,989.5 C762.27,996.53 779.52,1001.3 793.4,1004.2 C807.28,1007.1 815.57,1006.45 830,1006.9 C844.43,1007.35 862.18,1006.9 880,1006.9 C897.82,1006.9 927.42,1006.9 936.9,1006.9 A34,34 0 0 0 970.9,972.9 V786" fill="none" stroke="#fff" stroke-width="18.2" />
<path d="M91.9,768.4 H186 M69.6,801.9 H186" fill="none" stroke="#000" stroke-width="1.6" />
<path d="M185,768 V802.2 M189.6,768 V802.2" fill="none" stroke="#000" stroke-width="1.6" />
<path d="M128.2,718 L18.8,875.3" stroke="#000" stroke-width="1.6" fill="none" stroke-dasharray="12.5 5.5"/>
<path d="M950,790 H992 V740 H950 Z" fill="#fff" stroke="none" stroke-width="0" />
<path d="M954.5,791 C954.48,789.17 954.82,783.5 954.4,780 C953.98,776.5 953.4,774.33 952,770 C950.6,765.67 948.5,759 946,754 C943.5,749 940.67,744.33 937,740 C933.33,735.67 928.43,731.25 924,728 C919.57,724.75 912.67,721.75 910.4,720.5" fill="none" stroke="#000" stroke-width="1.8" />
<path d="M987.3,791 C987.32,789.17 986.95,783.5 987.4,780 C987.85,776.5 988.57,774.33 990,770 C991.43,765.67 993.5,759 996,754 C998.5,749 1001.33,744.33 1005,740 C1008.67,735.67 1013.87,731.25 1018,728 C1022.13,724.75 1027.83,721.75 1029.8,720.5" fill="none" stroke="#000" stroke-width="1.8" />
<path d="M961.4,791 C961.37,788.83 961.68,782.17 961.2,778 C960.72,773.83 959.45,769.5 958.5,766 C957.55,762.5 956.42,759.5 955.5,757 C954.58,754.5 953.33,752.58 953,751 C952.67,749.42 952.83,748.42 953.5,747.5 C954.17,746.58 955.58,746.08 957,745.5 C958.42,744.92 961.17,744.25 962,744" fill="none" stroke="#000" stroke-width="1.8" />
<path d="M980.4,791 C980.43,788.83 980.08,782.17 980.6,778 C981.12,773.83 982.52,769.5 983.5,766 C984.48,762.5 985.63,759.5 986.5,757 C987.37,754.5 988.42,752.58 988.7,751 C988.98,749.42 988.82,748.42 988.2,747.5 C987.58,746.58 986.37,746.08 985,745.5 C983.63,744.92 980.83,744.25 980,744" fill="none" stroke="#000" stroke-width="1.8" />
<path d="M910.4,690.8 V720.5 M1029.8,690.8 V720.5" fill="none" stroke="#000" stroke-width="1.8" />
<path d="M910.4,713.2 H921.5 M929.8,713.2 H954.5 M985,713.2 H1009.3 M1017.7,713.2 H1029.8" fill="none" stroke="#000" stroke-width="2.2" />
<circle cx="925.6" cy="713.2" r="3.6" fill="#fff" stroke="#000" stroke-width="2.2"/>
<circle cx="1013.5" cy="713.2" r="3.6" fill="#fff" stroke="#000" stroke-width="2.2"/>
<path d="M942.2,692 L942.2,712" stroke="#000" stroke-width="5.6" fill="none" stroke-dasharray="1.5 0.8"/>
<path d="M997.3,692 L997.3,712" stroke="#000" stroke-width="5.6" fill="none" stroke-dasharray="1.5 0.8"/>
<path d="M947,692 V701.7 H950.5 V705 H955 M993,692 V701.7 H989.5 V705 H985" fill="none" stroke="#000" stroke-width="1.8" />
<path d="M952,706.5 H988" fill="none" stroke="#000" stroke-width="3" />
<path d="M955,708.5 V711.8 H985 V708.5" fill="none" stroke="#000" stroke-width="1.6" />
<rect x="960.3" y="713.2" width="21.3" height="30.6" rx="0" fill="#000" stroke="#000" stroke-width="0.5"/>
<path d="M976.6,714 L976.6,743" stroke="#fff" stroke-width="1.3" fill="none" /></g>
<g id="botdrawing" transform="translate(0,1017)"><use href="#sym"/>
<use href="#lenses"/>
<use href="#coilU"/>
<use href="#coilIn"/>
<use href="#coilBr"/>
<use href="#coilU" transform="translate(0,907) scale(1,-1)"/>
<use href="#coilOut" transform="translate(0,907) scale(1,-1)"/>
<use href="#coilBrO" transform="translate(0,907) scale(1,-1)"/>
<use href="#coilU" transform="translate(1939,0) scale(-1,1)"/>
<use href="#coilIn" transform="translate(1939,0) scale(-1,1)"/>
<use href="#coilBr" transform="translate(1939,0) scale(-1,1)"/>
<use href="#coilU" transform="translate(1939,907) scale(-1,-1)"/>
<use href="#coilOut" transform="translate(1939,907) scale(-1,-1)"/>
<use href="#coilBrO" transform="translate(1939,907) scale(-1,-1)"/>
<use href="#cenUb"/>
<use href="#cenUb" transform="translate(0,907) scale(1,-1)"/>
<use href="#elec" transform="translate(0,907) scale(1,-1)"/>
<g transform="translate(0,-1017)"><rect x="969.9" y="1552.5" width="27.9" height="117.2" rx="0" fill="none" stroke="#000" stroke-width="1.6"/>
<rect x="971.9" y="1554.5" width="23.9" height="113.2" rx="0" fill="none" stroke="#000" stroke-width="1.6"/>
<path d="M982.8,1554.5 L982.8,1667.7" stroke="#000" stroke-width="2" fill="none" />
<path d="M990.8,1554.5 L990.8,1667.7" stroke="#000" stroke-width="2" fill="none" />
<path d="M972,1560 L995.8,1560" stroke="#000" stroke-width="2" fill="none" />
<path d="M972,1587.9 L995.8,1587.9" stroke="#000" stroke-width="2" fill="none" />
<path d="M972,1596.9 L995.8,1596.9" stroke="#000" stroke-width="2" fill="none" />
<path d="M972,1605.4 L995.8,1605.4" stroke="#000" stroke-width="2" fill="none" />
<path d="M972,1614.4 L995.8,1614.4" stroke="#000" stroke-width="2" fill="none" />
<path d="M972,1640.8 L995.8,1640.8" stroke="#000" stroke-width="2" fill="none" />
<path d="M972,1649.8 L995.8,1649.8" stroke="#000" stroke-width="2" fill="none" />
<path d="M972,1658.3 L995.8,1658.3" stroke="#000" stroke-width="2" fill="none" />
<path d="M972,1569.4 L982.8,1569.4" stroke="#000" stroke-width="2" fill="none" />
<path d="M972,1622.8 L982.8,1622.8" stroke="#000" stroke-width="2" fill="none" />
<rect x="958.4" y="1236" width="51.4" height="22" rx="0" fill="none" stroke="#000" stroke-width="1.8"/>
<path d="M951.9,1262.4 L1010.6,1262.4" stroke="#000" stroke-width="1.8" fill="none" />
<path d="M970.3,1281.8 A14,14 0 0 0 970.3,1309.8" fill="none" stroke="#000" stroke-width="2.6" />
<path d="M979.8,1272.5 L979.8,1329.8" stroke="#000" stroke-width="3.4" fill="none" />
<path d="M979.8,1277 H996 V1290 M979.8,1287 H1004 V1281.5 H996" fill="none" stroke="#000" stroke-width="2.4" />
<path d="M989,1287 V1309.5 M996,1290 V1309.5" fill="none" stroke="#000" stroke-width="2.4" />
<path d="M979.8,1310.5 H1010" fill="none" stroke="#000" stroke-width="4" />
<path d="M979.8,1318 H1002.5 V1327 H979.8" fill="none" stroke="#000" stroke-width="2.6" />
<path d="M979.8,1322.5 H1002.5" fill="none" stroke="#000" stroke-width="2.6" />
<path d="M970.3,1337 H1005.5 V1375.5 H989 V1386 H981.5 V1366" fill="none" stroke="#000" stroke-width="2.4" />
<path d="M976.5,1346.5 H985.5 V1362 H976.5 M976.5,1365.5 H1007" fill="none" stroke="#000" stroke-width="2.8" />
<path d="M979,1392.5 H991 V1412 H979 V1402 H984.5" fill="none" stroke="#000" stroke-width="2.4" />
<path d="M979.5,1418.5 H1001" fill="none" stroke="#000" stroke-width="2.4" /></g></g>
<use href="#botU"/>
<use href="#botU" transform="translate(0,2941) scale(1,-1)"/>
<path d="M1489.57,1196.33 A274.2,274.2 0 0 1 1551.11,1202.44" fill="none" stroke="#000" stroke-width="1.9" />
<path d="M1489.63,1200.63 A269.9,269.9 0 0 1 1550.21,1206.65" fill="none" stroke="#000" stroke-width="1.7" />
<path d="M1549.85,1208.31 A268.2,268.2 0 0 1 1607.08,1226.7" fill="none" stroke="#000" stroke-width="1.9" />
<path d="M1548.94,1212.51 A263.9,263.9 0 0 1 1605.27,1230.6" fill="none" stroke="#000" stroke-width="1.7" />
<path d="M1604.34,1232.59 A262.5,262.5 0 0 1 1655.14,1262.73" fill="none" stroke="#000" stroke-width="1.9" />
<path d="M1602.52,1236.49 A258.2,258.2 0 0 1 1652.5,1266.13" fill="none" stroke="#000" stroke-width="1.7" />
<path d="M1650.96,1268.1 A256.5,256.5 0 0 1 1693.92,1309.27" fill="none" stroke="#000" stroke-width="1.9" />
<path d="M1648.32,1271.49 A252.2,252.2 0 0 1 1690.57,1311.97" fill="none" stroke="#000" stroke-width="1.7" />
<path d="M1688.62,1313.54 A250.5,250.5 0 0 1 1719.46,1360.73" fill="none" stroke="#000" stroke-width="1.9" />
<path d="M1685.27,1316.23 A246.2,246.2 0 0 1 1715.59,1362.61" fill="none" stroke="#000" stroke-width="1.7" />
<path d="M1714.69,1363.05 A246,246 0 0 1 1733.87,1414.98" fill="none" stroke="#000" stroke-width="1.9" />
<path d="M1710.82,1364.93 A241.7,241.7 0 0 1 1729.68,1415.95" fill="none" stroke="#000" stroke-width="1.7" />
<path d="M1728.91,1416.13 A241.7,241.7 0 0 1 1735.9,1470.5" fill="none" stroke="#000" stroke-width="1.9" />
<path d="M1724.72,1417.1 A237.4,237.4 0 0 1 1731.6,1470.5" fill="none" stroke="#000" stroke-width="1.7" />
<path d="M1489.57,1744.67 A274.2,274.2 0 0 0 1551.11,1738.56" fill="none" stroke="#000" stroke-width="1.9" />
<path d="M1489.63,1740.37 A269.9,269.9 0 0 0 1550.21,1734.35" fill="none" stroke="#000" stroke-width="1.7" />
<path d="M1549.85,1732.69 A268.2,268.2 0 0 0 1607.08,1714.3" fill="none" stroke="#000" stroke-width="1.9" />
<path d="M1548.94,1728.49 A263.9,263.9 0 0 0 1605.27,1710.4" fill="none" stroke="#000" stroke-width="1.7" />
<path d="M1604.34,1708.41 A262.5,262.5 0 0 0 1655.14,1678.27" fill="none" stroke="#000" stroke-width="1.9" />
<path d="M1602.52,1704.51 A258.2,258.2 0 0 0 1652.5,1674.87" fill="none" stroke="#000" stroke-width="1.7" />
<path d="M1650.96,1672.9 A256.5,256.5 0 0 0 1693.92,1631.73" fill="none" stroke="#000" stroke-width="1.9" />
<path d="M1648.32,1669.51 A252.2,252.2 0 0 0 1690.57,1629.03" fill="none" stroke="#000" stroke-width="1.7" />
<path d="M1688.62,1627.46 A250.5,250.5 0 0 0 1719.46,1580.27" fill="none" stroke="#000" stroke-width="1.9" />
<path d="M1685.27,1624.77 A246.2,246.2 0 0 0 1715.59,1578.39" fill="none" stroke="#000" stroke-width="1.7" />
<path d="M1714.69,1577.95 A246,246 0 0 0 1733.87,1526.02" fill="none" stroke="#000" stroke-width="1.9" />
<path d="M1710.82,1576.07 A241.7,241.7 0 0 0 1729.68,1525.05" fill="none" stroke="#000" stroke-width="1.7" />
<path d="M1728.91,1524.87 A241.7,241.7 0 0 0 1735.9,1470.5" fill="none" stroke="#000" stroke-width="1.9" />
<path d="M1724.72,1523.9 A237.4,237.4 0 0 0 1731.6,1470.5" fill="none" stroke="#000" stroke-width="1.7" />
<path d="M1537.68,1264.82 L1551.28,1201.66" stroke="#000" stroke-width="1.9" fill="none" />
<path d="M1537.05,1267.75 L1496.77,1454.86" stroke="#000" stroke-width="1.7" fill="none" stroke-dasharray="14 5.5"/>
<path d="M1572.22,1301.46 L1607.08,1226.7" stroke="#000" stroke-width="1.9" fill="none" />
<path d="M1570.96,1304.18 L1500.16,1456" stroke="#000" stroke-width="1.7" fill="none" stroke-dasharray="14 5.5"/>
<path d="M1596.45,1338.13 L1655.14,1262.73" stroke="#000" stroke-width="1.9" fill="none" />
<path d="M1594.6,1340.5 L1503.23,1457.87" stroke="#000" stroke-width="1.7" fill="none" stroke-dasharray="14 5.5"/>
<path d="M1613.07,1374.28 L1693.92,1309.27" stroke="#000" stroke-width="1.9" fill="none" />
<path d="M1610.73,1376.16 L1505.87,1460.47" stroke="#000" stroke-width="1.7" fill="none" stroke-dasharray="14 5.5"/>
<path d="M1623.16,1407.49 L1719.46,1360.73" stroke="#000" stroke-width="1.9" fill="none" />
<path d="M1620.47,1408.8 L1507.79,1463.51" stroke="#000" stroke-width="1.7" fill="none" stroke-dasharray="14 5.5"/>
<path d="M1628.72,1439.26 L1733.87,1414.98" stroke="#000" stroke-width="1.9" fill="none" />
<path d="M1625.79,1439.93 L1508.99,1466.9" stroke="#000" stroke-width="1.7" fill="none" stroke-dasharray="14 5.5"/>
<path d="M1517.4,1470.5 L1729.1,1470.5" stroke="#000" stroke-width="1.7" fill="none" stroke-dasharray="14 5.5"/>
<path d="M1537.68,1676.18 L1551.28,1739.34" stroke="#000" stroke-width="1.9" fill="none" />
<path d="M1537.05,1673.25 L1496.77,1486.14" stroke="#000" stroke-width="1.7" fill="none" stroke-dasharray="14 5.5"/>
<path d="M1572.22,1639.54 L1607.08,1714.3" stroke="#000" stroke-width="1.9" fill="none" />
<path d="M1570.96,1636.82 L1500.16,1485" stroke="#000" stroke-width="1.7" fill="none" stroke-dasharray="14 5.5"/>
<path d="M1596.45,1602.87 L1655.14,1678.27" stroke="#000" stroke-width="1.9" fill="none" />
<path d="M1594.6,1600.5 L1503.23,1483.13" stroke="#000" stroke-width="1.7" fill="none" stroke-dasharray="14 5.5"/>
<path d="M1613.07,1566.72 L1693.92,1631.73" stroke="#000" stroke-width="1.9" fill="none" />
<path d="M1610.73,1564.84 L1505.87,1480.53" stroke="#000" stroke-width="1.7" fill="none" stroke-dasharray="14 5.5"/>
<path d="M1623.16,1533.51 L1719.46,1580.27" stroke="#000" stroke-width="1.9" fill="none" />
<path d="M1620.47,1532.2 L1507.79,1477.49" stroke="#000" stroke-width="1.7" fill="none" stroke-dasharray="14 5.5"/>
<path d="M1628.72,1501.74 L1733.87,1526.02" stroke="#000" stroke-width="1.9" fill="none" />
<path d="M1625.79,1501.07 L1508.99,1474.1" stroke="#000" stroke-width="1.7" fill="none" stroke-dasharray="14 5.5"/>
<path d="M1491.4,1470.5 L1492.42,1457.54" stroke="#000" stroke-width="1.4" fill="none" />
<path d="M1491.4,1470.5 L1494.54,1457.89" stroke="#000" stroke-width="1.4" fill="none" />
<path d="M1491.4,1470.5 L1496.58,1458.58" stroke="#000" stroke-width="1.4" fill="none" />
<path d="M1491.4,1470.5 L1498.48,1459.6" stroke="#000" stroke-width="1.4" fill="none" />
<path d="M1491.4,1470.5 L1500.18,1460.92" stroke="#000" stroke-width="1.4" fill="none" />
<path d="M1491.4,1470.5 L1501.64,1462.5" stroke="#000" stroke-width="1.4" fill="none" />
<path d="M1491.4,1470.5 L1502.82,1464.3" stroke="#000" stroke-width="1.4" fill="none" />
<path d="M1491.4,1470.5 L1503.69,1466.27" stroke="#000" stroke-width="1.4" fill="none" />
<path d="M1491.4,1470.5 L1504.22,1468.35" stroke="#000" stroke-width="1.4" fill="none" />
<path d="M1491.4,1470.5 L1504.4,1470.5" stroke="#000" stroke-width="1.4" fill="none" />
<path d="M1491.4,1470.5 L1504.22,1472.65" stroke="#000" stroke-width="1.4" fill="none" />
<path d="M1491.4,1470.5 L1503.69,1474.73" stroke="#000" stroke-width="1.4" fill="none" />
<path d="M1491.4,1470.5 L1502.82,1476.7" stroke="#000" stroke-width="1.4" fill="none" />
<path d="M1491.4,1470.5 L1501.64,1478.5" stroke="#000" stroke-width="1.4" fill="none" />
<path d="M1491.4,1470.5 L1500.18,1480.08" stroke="#000" stroke-width="1.4" fill="none" />
<path d="M1491.4,1470.5 L1498.48,1481.4" stroke="#000" stroke-width="1.4" fill="none" />
<path d="M1491.4,1470.5 L1496.58,1482.42" stroke="#000" stroke-width="1.4" fill="none" />
<path d="M1491.4,1470.5 L1494.54,1483.11" stroke="#000" stroke-width="1.4" fill="none" />
<path d="M1491.4,1470.5 L1492.42,1483.46" stroke="#000" stroke-width="1.4" fill="none" />
<rect x="750.8" y="1566.4" width="150.8" height="4.1" rx="0" fill="#fff" stroke="#000" stroke-width="1.7"/><rect x="1037.3" y="1566.4" width="151.9" height="4.1" rx="0" fill="#fff" stroke="#000" stroke-width="1.7"/><path d="M881.3,1570.5 V1577 M901.2,1570.5 V1577 M1037.6,1570.5 V1577 M1057.6,1570.5 V1577" fill="none" stroke="#000" stroke-width="1.7" />
</svg>
</body></html>
